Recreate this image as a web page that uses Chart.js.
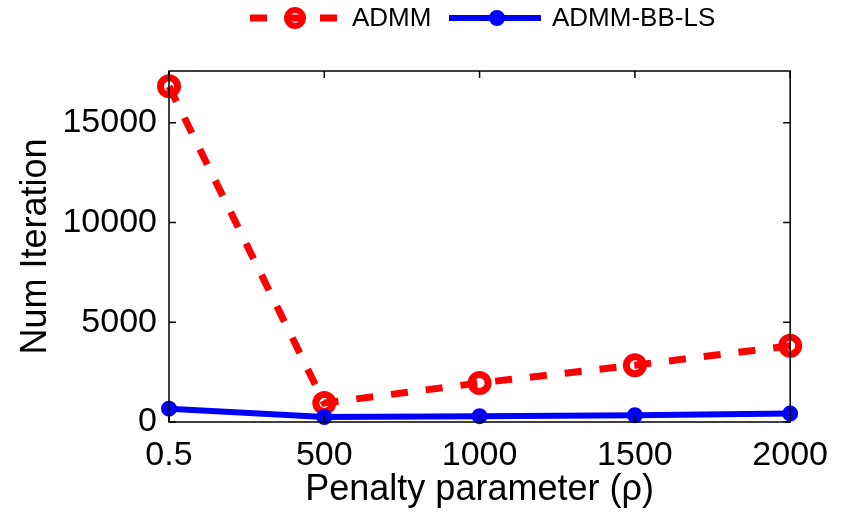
<!DOCTYPE html>
<html><head><meta charset="utf-8">
<script src="https://cdn.jsdelivr.net/npm/chart.js@4/dist/chart.umd.min.js"></script>
<style>html,body{margin:0;padding:0;background:#fff}#wrap{width:841px;height:512px}</style>
</head><body><div id="wrap"><canvas id="c" width="841" height="512"></canvas></div>
<script>
const categories = ['0.5', '500', '1000', '1500', '2000'];
const admm = [16830, 950, 1960, 2850, 3820];
const admmBBLS = [670, 250, 290, 340, 420];
const yTickValues = [0, 5000, 10000, 15000];
const seriesNames = ['ADMM', 'ADMM-BB-LS'];
const xTitle = 'Penalty parameter (\u03c1)';
const yTitle = 'Num Iteration';

const FONT = '"Liberation Sans", Arial, Helvetica, sans-serif';

const boxPlugin = {
  id: 'boxTicks',
  afterDraw(chart) {
    const {ctx, chartArea: a, scales: {x, y}} = chart;
    ctx.save();
    ctx.strokeStyle = '#000';
    ctx.lineWidth = 1.5;
    ctx.strokeRect(a.left, a.top, a.right - a.left, a.bottom - a.top);
    const L = 7;
    ctx.beginPath();
    categories.forEach((c, i) => {
      const px = x.getPixelForValue(i);
      ctx.moveTo(px, a.bottom); ctx.lineTo(px, a.bottom - L);
      ctx.moveTo(px, a.top); ctx.lineTo(px, a.top + L);
    });
    yTickValues.forEach(v => {
      const py = y.getPixelForValue(v);
      ctx.moveTo(a.left, py); ctx.lineTo(a.left + L, py);
      ctx.moveTo(a.right, py); ctx.lineTo(a.right - L, py);
    });
    ctx.stroke();
    ctx.restore();
  }
};

const legendPlugin = {
  id: 'matlabLegend',
  afterDraw(chart) {
    const {ctx} = chart;
    const items = [
      {ds: chart.data.datasets[0], x0: 250, x1: 338, mx: 295, tx: 352, r: 8, w: 6},
      {ds: chart.data.datasets[1], x0: 449, x1: 541, mx: 497, tx: 552, r: 7, w: 2}
    ];
    const yc = 18;
    ctx.save();
    items.forEach(it => {
      const ds = it.ds;
      ctx.strokeStyle = ds.borderColor;
      ctx.lineWidth = ds.borderWidth;
      ctx.setLineDash(ds.borderDash || []);
      ctx.lineCap = 'butt';
      ctx.beginPath(); ctx.moveTo(it.x0, yc); ctx.lineTo(it.x1, yc); ctx.stroke();
      ctx.setLineDash([]);
      ctx.beginPath();
      ctx.arc(it.mx, yc, it.r, 0, Math.PI * 2);
      if (ds.pointBackgroundColor && ds.pointBackgroundColor !== 'rgba(0,0,0,0)') {
        ctx.fillStyle = ds.pointBackgroundColor; ctx.fill();
      }
      ctx.lineWidth = it.w;
      ctx.strokeStyle = ds.pointBorderColor;
      ctx.stroke();
      ctx.fillStyle = '#000';
      ctx.font = '26px ' + FONT;
      ctx.textBaseline = 'middle';
      ctx.textAlign = 'left';
      ctx.fillText(ds.label, it.tx, yc + 1);
    });
    ctx.restore();
  }
};

new Chart(document.getElementById('c'), {
  type: 'line',
  data: {
    labels: categories,
    datasets: [
      {
        label: seriesNames[0], data: admm,
        borderColor: '#ff0000', borderWidth: 7, borderDash: [17, 18],
        pointStyle: 'circle', pointRadius: 8.5, pointBorderWidth: 7,
        pointBorderColor: '#ff0000', pointBackgroundColor: 'rgba(0,0,0,0)',
        pointHoverRadius: 8.5, fill: false, tension: 0, order: 2, clip: false
      },
      {
        label: seriesNames[1], data: admmBBLS,
        borderColor: '#0000ff', borderWidth: 6,
        pointStyle: 'circle', pointRadius: 7, pointBorderWidth: 2,
        pointBorderColor: '#0000ff', pointBackgroundColor: '#0000ff',
        pointHoverRadius: 7, fill: false, tension: 0, order: 1, clip: false
      }
    ]
  },
  options: {
    responsive: false,
    animation: false,
    devicePixelRatio: 1,
    layout: {padding: {top: 71, right: 49, left: 0, bottom: 0}},
    plugins: {legend: {display: false}, tooltip: {enabled: false}},
    scales: {
      x: {
        type: 'category', offset: false,
        grid: {display: false, drawTicks: false},
        border: {display: false},
        ticks: {color: '#000', font: {size: 34, family: FONT}, padding: 13, maxRotation: 0, autoSkip: false},
        title: {display: true, text: xTitle, color: '#000', font: {size: 36, family: FONT}, padding: {top: 0, bottom: 0}},
        afterFit(s) { s.height = 90; }
      },
      y: {
        type: 'linear', min: 0, max: 17600,
        grid: {display: false, drawTicks: false},
        border: {display: false},
        ticks: {color: '#000', font: {size: 34, family: FONT}, padding: 12, stepSize: 5000,
                callback: v => String(v)},
        afterBuildTicks(s) { s.ticks = yTickValues.map(v => ({value: v})); },
        title: {display: true, text: yTitle, color: '#000', font: {size: 36, family: FONT}, padding: {top: 14, bottom: 0}},
        afterFit(s) { s.width = 169; }
      }
    }
  },
  plugins: [boxPlugin, legendPlugin]
});
</script></body></html>
